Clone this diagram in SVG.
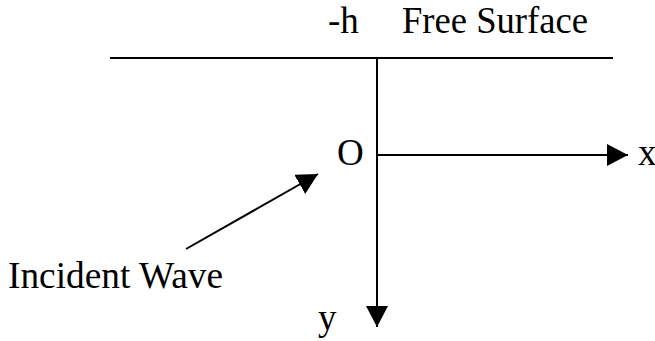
<svg xmlns="http://www.w3.org/2000/svg" width="655" height="341" viewBox="0 0 655 341">
<defs>
<style>
text{font-family:"Liberation Serif","Times New Roman",serif;font-size:37px;fill:#000}
.ln{stroke:#000;stroke-width:2;fill:none}
</style>
<marker id="ah" markerUnits="userSpaceOnUse" markerWidth="22" markerHeight="24" refX="21" refY="11" orient="auto">
<path d="M0,0 L21,11 L0,22 Z" fill="#000"/>
</marker>
</defs>
<rect width="655" height="341" fill="#fff"/>
<g id="connectors">
<line id="free-surface" class="ln" x1="110" y1="58" x2="613" y2="58"/>
<line id="y-axis" class="ln" x1="377" y1="58" x2="377" y2="327" marker-end="url(#ah)"/>
<line id="x-axis" class="ln" x1="377" y1="155" x2="628" y2="155" marker-end="url(#ah)"/>
<line id="incident" class="ln" x1="186" y1="249" x2="318" y2="174" marker-end="url(#ah)"/>
</g>
<g id="label-h"><text x="328" y="33">-h</text></g>
<g id="label-free"><text x="402" y="33" textLength="186" lengthAdjust="spacingAndGlyphs">Free Surface</text></g>
<g id="label-O"><text x="337" y="165">O</text></g>
<g id="label-x"><text x="638" y="165">x</text></g>
<g id="label-y"><text x="318" y="330">y</text></g>
<g id="label-incident"><text x="8" y="288" textLength="215" lengthAdjust="spacingAndGlyphs">Incident Wave</text></g>
</svg>
